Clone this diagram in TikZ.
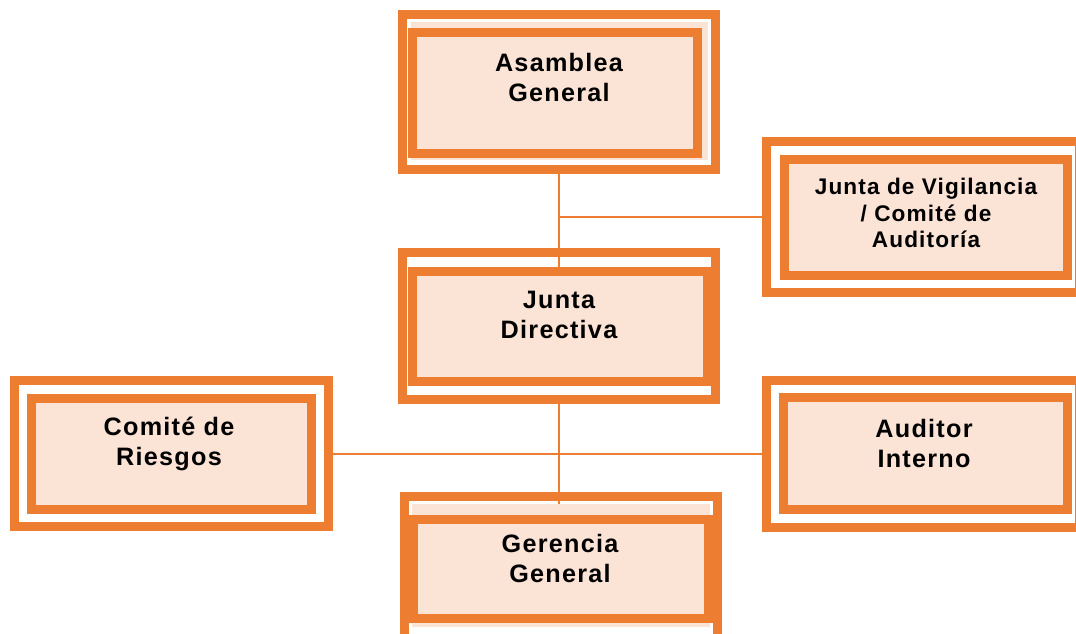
\documentclass[tikz,border=0pt]{standalone}
\usepackage{fontspec}
\setmainfont{Liberation Sans}[LetterSpace=5]
\pgfdeclarelayer{frames}
\pgfdeclarelayer{lines}
\pgfsetlayers{frames,lines,main}
\definecolor{org}{HTML}{ED7D31}
\definecolor{pch}{HTML}{FBE4D5}
\tikzset{
  frame/.style={draw=org, line width=4.5pt, fill=white, rectangle, inner sep=0pt},
  inbox/.style={draw=org, line width=4.5pt, fill=pch, rectangle, inner sep=0pt},
  backing/.style={fill=pch, draw=none, rectangle, inner sep=0pt},
  conn/.style={draw=org, line width=1pt},
  lbl/.style={font=\bfseries\fontsize{12.6}{15}\selectfont, align=center, inner sep=0pt},
  lblsmall/.style={font=\bfseries\fontsize{11.3}{13.25}\selectfont, align=center, inner sep=0pt},
}
\begin{document}
\begin{tikzpicture}[x=0.5pt,y=-0.5pt]
\useasboundingbox (0,0) rectangle (1076,633);
\clip (0,0) rectangle (1076,633);
\begin{pgfonlayer}{frames}
\node[frame, minimum width=156.5pt, minimum height=77.5pt] (A) at (559,92) {};
\node[frame, minimum width=156.5pt, minimum height=75.5pt] (J) at (923,217) {};
\node[frame, minimum width=156.5pt, minimum height=73.5pt] (JD) at (559,326) {};
\node[frame, minimum width=157pt, minimum height=73pt] (CR) at (171.5,453.5) {};
\node[frame, minimum width=156.5pt, minimum height=73.5pt] (AI) at (923,454) {};
\node[frame, minimum width=156.5pt, minimum height=72pt] (GG) at (561,568) {};
\end{pgfonlayer}
% backings
\node[backing, minimum width=148.5pt, minimum height=69pt] (Ab) at (559.5,91) {};
\node[backing, minimum width=149pt, minimum height=61.5pt] (GGb) at (561,565.5) {};
% inner boxes
\node[inbox, minimum width=142.5pt, minimum height=60.5pt] (Ai) at (555,93) {};
\node[inbox, minimum width=141.5pt, minimum height=58pt] (Ji) at (926,217.5) {};
\node[inbox, minimum width=147.5pt, minimum height=55pt] (JDi) at (560,326.5) {};
\node[inbox, minimum width=140pt, minimum height=55.5pt] (CRi) at (171.5,454) {};
\node[inbox, minimum width=142pt, minimum height=56pt] (AIi) at (925.5,453.5) {};
\node[inbox, minimum width=147.5pt, minimum height=49.5pt] (GGi) at (561,569) {};
% texts
\node[lbl] (At) at (559,77.5) {Asamblea\\General};
\node[lblsmall] (Jt) at (926,213) {Junta de Vigilancia\\/ Comité de\\Auditoría};
\node[lbl] (JDt) at (559,315) {Junta\\Directiva};
\node[lbl] (CRt) at (169,444) {Comité de\\Riesgos};
\node[lbl] (AIt) at (924,443.5) {Auditor\\Interno};
\node[lbl] (GGt) at (560,558.5) {Gerencia\\General};
% connectors
\begin{pgfonlayer}{lines}
\draw[conn] (A.south) -- (A.south |- JDi.north);
\draw[conn] (A.south |- J.west) -- (J.west);
\draw[conn] (JD.south) -- (JD.south |- GGi.north);
\draw[conn] (CR.east) -- (CR.east -| AI.west);
\end{pgfonlayer}
\end{tikzpicture}
\end{document}
